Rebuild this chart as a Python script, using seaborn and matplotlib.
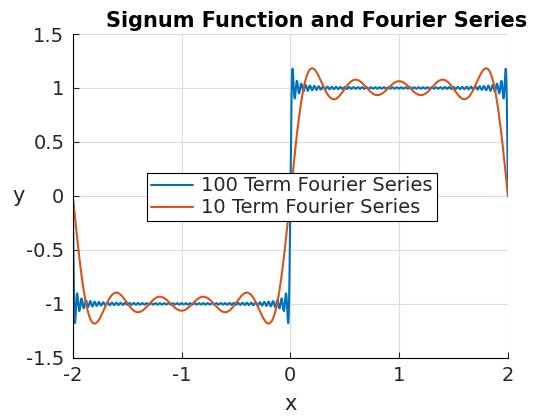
import matplotlib
matplotlib.use("Agg")
import matplotlib.pyplot as plt
import numpy as np
import pandas as pd
import seaborn as sns

# chart inputs
x_range = [-2, 2]
n_terms = [100, 10]
labels = ["100 Term Fourier Series", "10 Term Fourier Series"]
colors = ["#0072BD", "#D95319"]
x_ticks = [-2, -1, 0, 1, 2]
y_ticks = [-1.5, -1, -0.5, 0, 0.5, 1, 1.5]
y_tick_labels = ["-1.5", "-1", "-0.5", "0", "0.5", "1", "1.5"]

sns.set_theme(style="white")
plt.rcParams["font.family"] = ["DejaVu Sans"]

# sign(x) on period 4: b_k = 2(1 - cos(k pi)) / (k pi)
x = np.linspace(x_range[0], x_range[1], 4001)
frames = []
for n, lab in zip(n_terms, labels):
    k = np.arange(1, n + 1)
    b = 2 * (1 - np.cos(k * np.pi)) / (k * np.pi)
    y = (b[:, None] * np.sin(np.outer(k, x) * np.pi / 2)).sum(axis=0)
    frames.append(pd.DataFrame({"x": x, "y": y, "series": lab}))
df = pd.concat(frames, ignore_index=True)

fig = plt.figure(figsize=(5.6, 4.2), dpi=100)
ax = fig.add_axes([0.130, 0.148, 0.777, 0.771])
sns.lineplot(data=df, x="x", y="y", hue="series", hue_order=labels,
             palette=colors, linewidth=1.5, sort=False, ax=ax)

ax.set_xlim(x_range)
ax.set_ylim(-1.5, 1.5)
ax.set_xticks(x_ticks)
ax.set_xticklabels([str(t) for t in x_ticks])
ax.set_yticks(y_ticks)
ax.set_yticklabels(y_tick_labels)
ax.grid(True, color="#dcdcdc", linewidth=0.8)
ax.set_axisbelow(True)
for s in ["top", "right"]:
    ax.spines[s].set_visible(False)
for s in ["left", "bottom"]:
    ax.spines[s].set_color("black")
    ax.spines[s].set_linewidth(0.8)
ax.tick_params(direction="in", length=4, width=0.8, labelsize=14,
               colors="#262626", bottom=True, left=True, pad=6)

ax.set_title("Signum Function and Fourier Series", fontsize=15,
             fontweight="bold", color="black", pad=5, x=0.561)
ax.set_xlabel("x", fontsize=15, color="#262626", labelpad=6)
ax.set_ylabel("y", fontsize=15, color="#262626", rotation=0)
ax.yaxis.set_label_coords(-0.125, 0.47)

leg = ax.legend(loc="center", bbox_to_anchor=(0.503, 0.497), fontsize=14,
                frameon=True, fancybox=False, edgecolor="black",
                framealpha=1, handlelength=2.2, borderpad=0.2,
                labelspacing=0.15, handletextpad=0.4, borderaxespad=0)
leg.get_frame().set_linewidth(0.8)

fig.savefig("out.png", dpi=100)
